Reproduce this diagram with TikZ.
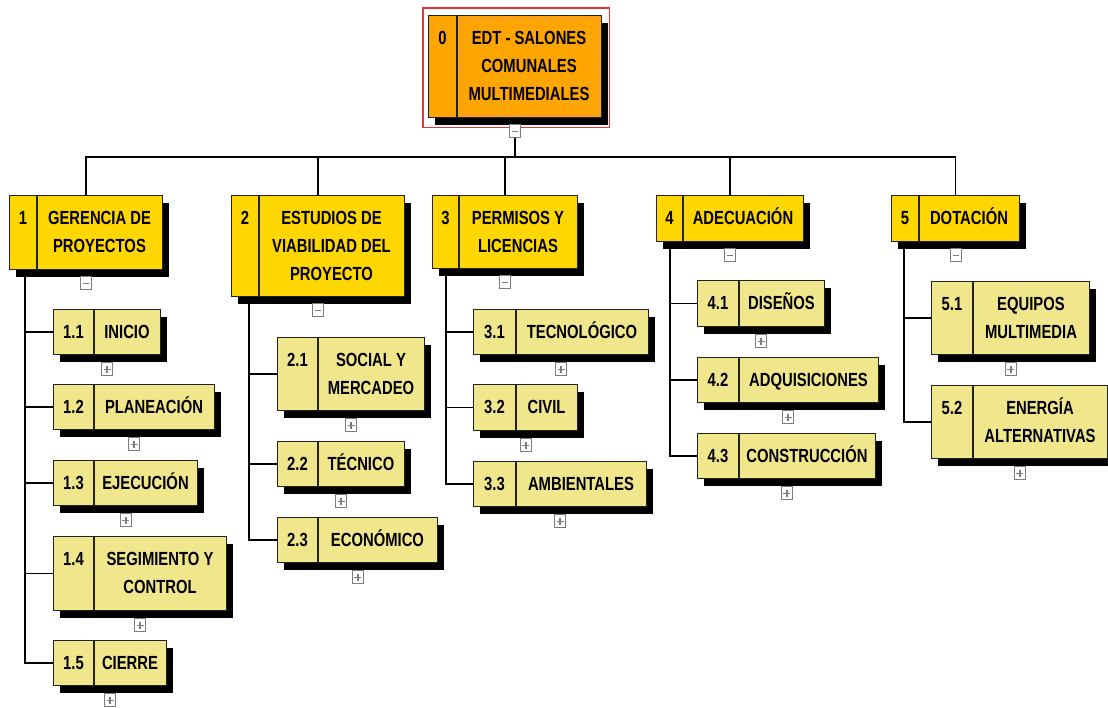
\documentclass[tikz,border=0pt]{standalone}
\usepackage{fontspec}
\setmainfont{Liberation Sans}[FakeStretch=0.78]
\usetikzlibrary{shadows}
\pgfdeclarelayer{background}
\pgfsetlayers{background,main}

\definecolor{rootfill}{RGB}{255,165,0}
\definecolor{lvlone}{RGB}{255,215,0}
\definecolor{lvltwo}{RGB}{240,230,140}
\definecolor{edge}{RGB}{34,34,34}
\definecolor{selred}{RGB}{232,52,56}
\definecolor{focuspink}{RGB}{232,120,200}
\definecolor{markgray}{RGB}{125,125,125}

\tikzset{
  wbsbox/.style={draw=edge, line width=1.4pt, inner sep=0pt,
    drop shadow={shadow xshift=6pt, shadow yshift=-7pt, fill=black, opacity=1}},
  rootbox/.style={wbsbox, fill=rootfill},
  onebox/.style={wbsbox, fill=lvlone},
  twobox/.style={wbsbox, fill=lvltwo},
  divider/.style={draw=edge, line width=1.4pt},
  wbstext/.style={inner sep=0pt, font=\fontsize{19}{28}\selectfont\bfseries, yshift=-1.2pt},
  numtext/.style={inner sep=0pt, font=\fontsize{19}{28}\selectfont\bfseries, anchor=base},
  conn/.style={draw=black, line width=1.5pt},
  marker/.style={draw=markgray, fill=white, line width=1.1pt,
    minimum width=11pt, minimum height=13pt, inner sep=0pt},
  collapse/.style={marker, path picture={
    \draw[line width=1.7pt] ([xshift=-3pt]path picture bounding box.center)
      -- ([xshift=3pt]path picture bounding box.center);}},
  expand/.style={marker, path picture={
    \draw[line width=1.6pt] ([xshift=-3.5pt]path picture bounding box.center)
      -- ([xshift=3.5pt]path picture bounding box.center);
    \draw[line width=1.6pt] ([yshift=-3.5pt]path picture bounding box.center)
      -- ([yshift=3.5pt]path picture bounding box.center);}},
}

% #1 name, #2 style, #3..#6 left/top/right/bottom, #7 divider x, #8 code, #9 title
\newcommand{\wbsnode}[9]{%
  \node[#2, anchor=north west, minimum width={(#5-#3)*1pt},
        minimum height={(#6-#4)*1pt}] (#1) at (#3,#4) {};
  \draw[divider] (#7,#4) -- (#7,#6);
  \node[wbstext] (#1-t) at ({(#7+#5)/2},{(#4+#6)/2})
    {\begin{tabular}[t]{@{}c@{}}#9\end{tabular}};
  \coordinate (#1-c) at ({(#3+#7)/2},#4);
  \node[numtext] (#1-n) at (#1-c |- #1-t.base) {#8};
}

\begin{document}
\begin{tikzpicture}[x=1pt, y=-1pt]
\useasboundingbox (0,0) rectangle (1108,708);
\begin{pgfonlayer}{background}
  \fill[white] (0,0) rectangle (1108,708);
\end{pgfonlayer}

% root
\wbsnode{n0}{rootbox}{428}{15}{601}{117}{457}{0}{EDT - SALONES\\COMUNALES\\MULTIMEDIALES}
\draw[focuspink, dotted, line width=0.7pt] (460,18) rectangle (598,114);
\draw[selred, line width=1.3pt] ([shift={(-5,-7)}]n0.north west) rectangle ([shift={(7,9)}]n0.south east);
\node[collapse] (m0) at ([yshift=-13pt]n0.south) {};

% first level
\wbsnode{n1}{onebox}{9}{195}{162}{269}{37}{1}{GERENCIA DE\\PROYECTOS}
\wbsnode{n2}{onebox}{231}{195}{404}{296}{259}{2}{ESTUDIOS DE\\VIABILIDAD DEL\\PROYECTO}
\wbsnode{n3}{onebox}{432}{195}{577}{268}{459}{3}{PERMISOS Y\\LICENCIAS}
\wbsnode{n4}{onebox}{656}{195}{803}{241}{683}{4}{ADECUACIÓN}
\wbsnode{n5}{onebox}{891}{195}{1019}{241}{919}{5}{DOTACIÓN}
\foreach \k in {1,...,5}
  \node[collapse] (m\k) at ([yshift=-13pt]n\k.south) {};

% second level
\wbsnode{n11}{twobox}{53}{309}{160}{354}{94}{1.1}{INICIO}
\wbsnode{n12}{twobox}{53}{384}{214}{429}{94}{1.2}{PLANEACIÓN}
\wbsnode{n13}{twobox}{53}{460}{197}{505}{94}{1.3}{EJECUCIÓN}
\wbsnode{n14}{twobox}{53}{536}{226}{610}{94}{1.4}{SEGIMIENTO Y\\CONTROL}
\wbsnode{n15}{twobox}{53}{640}{166}{685}{94}{1.5}{CIERRE}

\wbsnode{n21}{twobox}{277}{337}{424}{410}{318}{2.1}{SOCIAL Y\\MERCADEO}
\wbsnode{n22}{twobox}{277}{441}{404}{486}{318}{2.2}{TÉCNICO}
\wbsnode{n23}{twobox}{277}{517}{437}{562}{318}{2.3}{ECONÓMICO}

\wbsnode{n31}{twobox}{473}{309}{648}{354}{516}{3.1}{TECNOLÓGICO}
\wbsnode{n32}{twobox}{473}{384}{577}{430}{516}{3.2}{CIVIL}
\wbsnode{n33}{twobox}{473}{461}{646}{506}{516}{3.3}{AMBIENTALES}

\wbsnode{n41}{twobox}{697}{280}{824}{326}{739}{4.1}{DISEÑOS}
\wbsnode{n42}{twobox}{697}{357}{878}{402}{739}{4.2}{ADQUISICIONES}
\wbsnode{n43}{twobox}{697}{433}{875}{478}{739}{4.3}{CONSTRUCCIÓN}

\wbsnode{n51}{twobox}{931}{281}{1089}{354}{973}{5.1}{EQUIPOS\\MULTIMEDIA}
\wbsnode{n52}{twobox}{931}{385}{1107}{458}{973}{5.2}{ENERGÍA\\ALTERNATIVAS}

\foreach \c in {11,12,13,14,15,21,22,23,31,32,33,41,42,43,51,52}
  \node[expand] (m\c) at ([yshift=-14pt]n\c.south) {};

% connectors
\begin{pgfonlayer}{background}
  \coordinate (busy) at (0,157);
  \draw[conn] (m0.south) -- (m0.south |- busy);
  \foreach \k in {1,...,5}
    \draw[conn] (m0.south |- busy) -| (n\k.north);
  \foreach \c in {11,...,15}
    \draw[conn] ([xshift=16pt]n1.south west) |- (n\c.west);
  \foreach \c in {21,22,23}
    \draw[conn] ([xshift=18pt]n2.south west) |- (n\c.west);
  \foreach \c in {31,32,33}
    \draw[conn] ([xshift=14pt]n3.south west) |- (n\c.west);
  \foreach \c in {41,42,43}
    \draw[conn] ([xshift=14pt]n4.south west) |- (n\c.west);
  \foreach \c in {51,52}
    \draw[conn] ([xshift=13pt]n5.south west) |- (n\c.west);
\end{pgfonlayer}
\end{tikzpicture}
\end{document}
